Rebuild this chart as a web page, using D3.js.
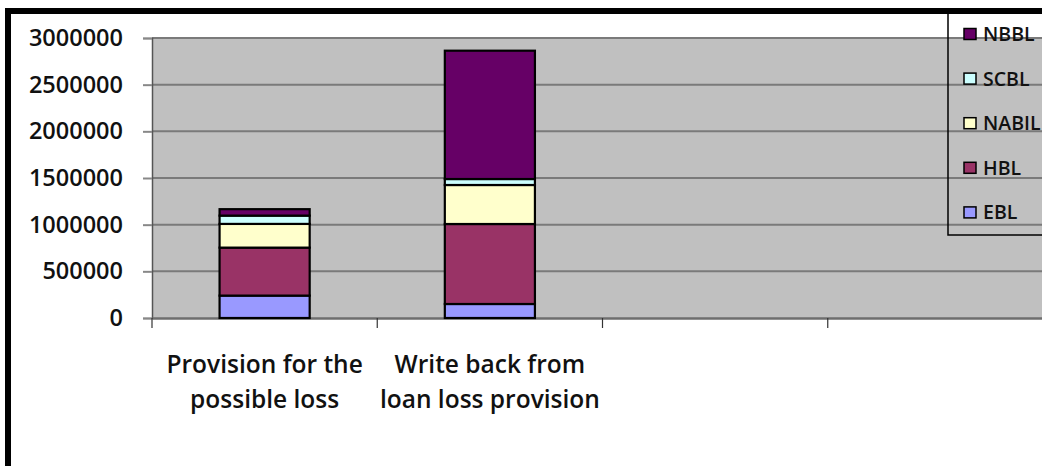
<!DOCTYPE html>
<html>
<head>
<meta charset="utf-8">
<script src="https://cdn.jsdelivr.net/npm/d3@7"></script>
<style>
  html, body { margin: 0; padding: 0; background: #fff; }
  svg { display: block; font-family: "Open Sans", sans-serif; font-weight: 600; }
</style>
</head>
<body>
<div id="chart"></div>
<script>
// categories (two empty slots on the right, as in the original sheet)
const categories = ['c1', 'c2', 'c3', 'c4'];
const categoryLabels = [
    ['Provision for the', 'possible loss'],
    ['Write back from', 'loan loss provision'],
    [],
    []
];

// stacked series, bottom to top
const seriesNames = ['EBL', 'HBL', 'NABIL', 'SCBL', 'NBBL'];
const seriesColors = ['#9999ff', '#993366', '#ffffcc', '#ccffff', '#660066'];
const EBL   = [240000, 150000, 0, 0];
const HBL   = [514000, 857000, 0, 0];
const NABIL = [254000, 418000, 0, 0];
const SCBL  = [89000, 64000, 0, 0];
const NBBL  = [69000, 1375000, 0, 0];

const yTicks = [0, 500000, 1000000, 1500000, 2000000, 2500000, 3000000];

const width = 1042, height = 466;
const plot = { left: 152, right: 1053, top: 38, bottom: 318 };

const svg = d3.select('#chart').append('svg')
    .attr('width', width)
    .attr('height', height);

// data table for the stack
const seriesValues = [EBL, HBL, NABIL, SCBL, NBBL];
const table = categories.map((c, i) => {
    const row = { key: c };
    seriesNames.forEach((s, j) => row[s] = seriesValues[j][i]);
    return row;
});
const stacked = d3.stack().keys(seriesNames)(table);

const x = d3.scaleBand()
    .domain(categories)
    .range([plot.left, plot.right])
    .padding(0);

const y = d3.scaleLinear()
    .domain([0, 3000000])
    .range([plot.bottom, plot.top]);

// plot background
svg.append('rect')
    .attr('x', plot.left)
    .attr('y', plot.top)
    .attr('width', plot.right - plot.left)
    .attr('height', plot.bottom - plot.top)
    .attr('fill', '#c0c0c0');

// gridlines
svg.append('g')
    .selectAll('line')
    .data(yTicks.filter(d => d > 0))
    .enter()
    .append('line')
    .attr('x1', plot.left)
    .attr('x2', plot.right)
    .attr('y1', d => y(d))
    .attr('y2', d => y(d))
    .attr('stroke', '#7a7a7a')
    .attr('stroke-width', 2);

// y axis
const yAxis = svg.append('g')
    .attr('transform', `translate(${plot.left},0)`)
    .call(d3.axisLeft(y).tickValues(yTicks).tickSize(9).tickPadding(20).tickFormat(d3.format('d')));
yAxis.select('.domain').attr('stroke', '#555').attr('stroke-width', 1.5);
yAxis.selectAll('.tick line').attr('stroke', '#888').attr('stroke-width', 2);
yAxis.selectAll('.tick text')
    .style('font-size', '23.5px')
    .style('font-family', '"Open Sans", sans-serif')
    .style('font-weight', 600)
    .attr('fill', '#111');

// x axis
const xAxis = svg.append('g')
    .attr('transform', `translate(0,${plot.bottom})`)
    .call(d3.axisBottom(x).tickSize(0).tickFormat(''));
xAxis.select('.domain').attr('stroke', '#6e6e6e').attr('stroke-width', 2.5);

// category boundary ticks
svg.append('g')
    .selectAll('line')
    .data(categories)
    .enter()
    .append('line')
    .attr('x1', d => x(d))
    .attr('x2', d => x(d))
    .attr('y1', plot.bottom)
    .attr('y2', plot.bottom + 10)
    .attr('stroke', '#333')
    .attr('stroke-width', 1.2);

// category labels
const labelGroup = svg.append('g');
categories.forEach((c, i) => {
    categoryLabels[i].forEach((line, k) => {
        labelGroup.append('text')
            .attr('x', x(c) + x.bandwidth() / 2)
            .attr('y', 373 + k * 35)
            .attr('text-anchor', 'middle')
            .style('font-size', '24.5px')
            .attr('fill', '#111')
            .text(line);
    });
});

// bars
const barW = x.bandwidth() * 0.4;
svg.append('g')
    .selectAll('g')
    .data(stacked)
    .enter()
    .append('g')
    .attr('fill', (d, i) => seriesColors[i])
    .selectAll('rect')
    .data(d => d.filter(p => p[1] - p[0] > 0))
    .enter()
    .append('rect')
    .attr('x', d => x(d.data.key) + (x.bandwidth() - barW) / 2)
    .attr('y', d => y(d[1]))
    .attr('width', barW)
    .attr('height', d => y(d[0]) - y(d[1]))
    .attr('stroke', '#000')
    .attr('stroke-width', 2.2);

// legend (transparent box, top to bottom = reversed stack order)
const legend = svg.append('g');
legend.append('rect')
    .attr('x', 948)
    .attr('y', 12)
    .attr('width', 200)
    .attr('height', 223)
    .attr('fill', 'none')
    .attr('stroke', '#000')
    .attr('stroke-width', 1.5);

const legendItems = seriesNames.map((s, i) => ({ name: s, color: seriesColors[i] })).reverse();
const li = legend.selectAll('.item')
    .data(legendItems)
    .enter()
    .append('g')
    .attr('class', 'item')
    .attr('transform', (d, i) => `translate(964,${34 + i * 44.6})`);
li.append('rect')
    .attr('x', 0)
    .attr('y', -5.5)
    .attr('width', 12)
    .attr('height', 11)
    .attr('fill', d => d.color)
    .attr('stroke', '#000')
    .attr('stroke-width', 1.5);
li.append('text')
    .attr('x', 19)
    .attr('y', 0)
    .attr('dy', '0.36em')
    .style('font-size', '19.5px')
    .attr('fill', '#111')
    .text(d => d.name);

// outer frame
svg.append('rect')
    .attr('x', 8)
    .attr('y', 11)
    .attr('width', 1200)
    .attr('height', 700)
    .attr('fill', 'none')
    .attr('stroke', '#000')
    .attr('stroke-width', 6);
</script>
</body>
</html>
